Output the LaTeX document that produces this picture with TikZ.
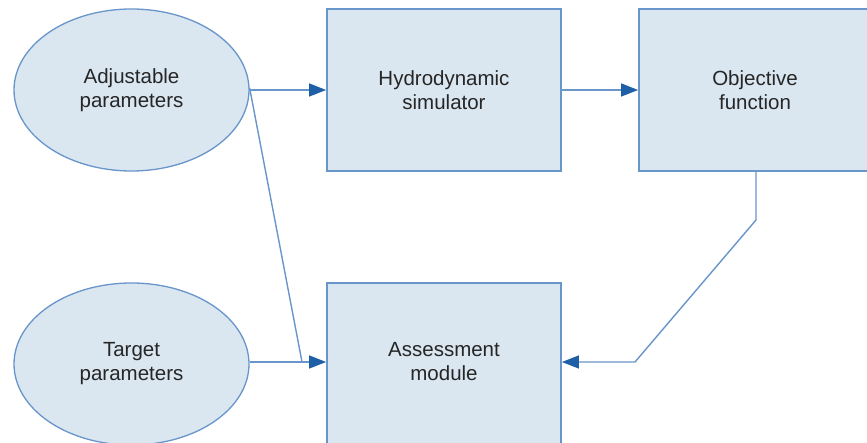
\documentclass[tikz,border=0pt]{standalone}
\usepackage{fontspec}
\setmainfont{Liberation Sans}
\usetikzlibrary{arrows.meta,shapes.geometric}
\definecolor{boxfill}{HTML}{DAE6F0}
\definecolor{boxline}{HTML}{6895CA}
\definecolor{tipblue}{HTML}{1F5FA5}
\tikzset{
  block/.style={draw=boxline, fill=boxfill, line width=1.8pt, inner sep=0pt,
    align=center, font=\fontsize{20.5}{24}\selectfont, text=black!85},
  oval/.style={block, ellipse, line width=1.3pt},
  label/.style={font=\fontsize{20.5}{24}\selectfont, align=center, text=black!85},
  flow/.style={draw=boxline, line width=1.4pt,
    -{Triangle[length=17pt,width=13pt,color=tipblue]}},
  wire/.style={draw=boxline, line width=1.4pt},
}
\begin{document}
\begin{tikzpicture}[x=1pt,y=-1pt]
\useasboundingbox (0,0) rectangle (867,443);
\clip (0,0) rectangle (867,443);
% parameter sets
\node[oval, minimum width=235pt, minimum height=162pt] (adj) at (131.5,90)
  {Adjustable\\parameters};
\node[oval, minimum width=235pt, minimum height=162pt] (tgt) at (131.5,364)
  {Target\\parameters};
% processing blocks
\node[block, minimum width=234pt, minimum height=162pt] (sim) at (444,90)
  {Hydrodynamic\\simulator};
\node[block, minimum width=234pt, minimum height=162pt] (obj) at (756,90) {};
\node[label] (objtext) at (755,90) {Objective\\function};
\node[block, minimum width=234pt, minimum height=162pt] (asm) at (444,364) {};
\node[label] (asmtext) at (444,362) {Assessment\\module};
% connectors
\coordinate (adjR) at (adj.east);
\coordinate (adjD) at ([yshift=2pt]adj.east);
\coordinate (bend) at (302,362);
\coordinate (asmL) at (asm.west |- bend);
\coordinate (tgtR) at (tgt.east |- bend);
\coordinate (objB) at (756,171);
\coordinate (objD) at (756,220);
\coordinate (objK) at (635,362);
\coordinate (asmR) at (asm.east |- objK);
\draw[flow] (adjR) -- (adjR -| sim.west);
\draw[flow] (sim.east) -- (sim.east -| obj.west);
\draw[wire] (adjD) -- (bend);
\draw[flow] (tgtR) -- (asmL);
\draw[flow] (objB) -- (objD) -- (objK) -- (asmR);
\end{tikzpicture}
\end{document}
